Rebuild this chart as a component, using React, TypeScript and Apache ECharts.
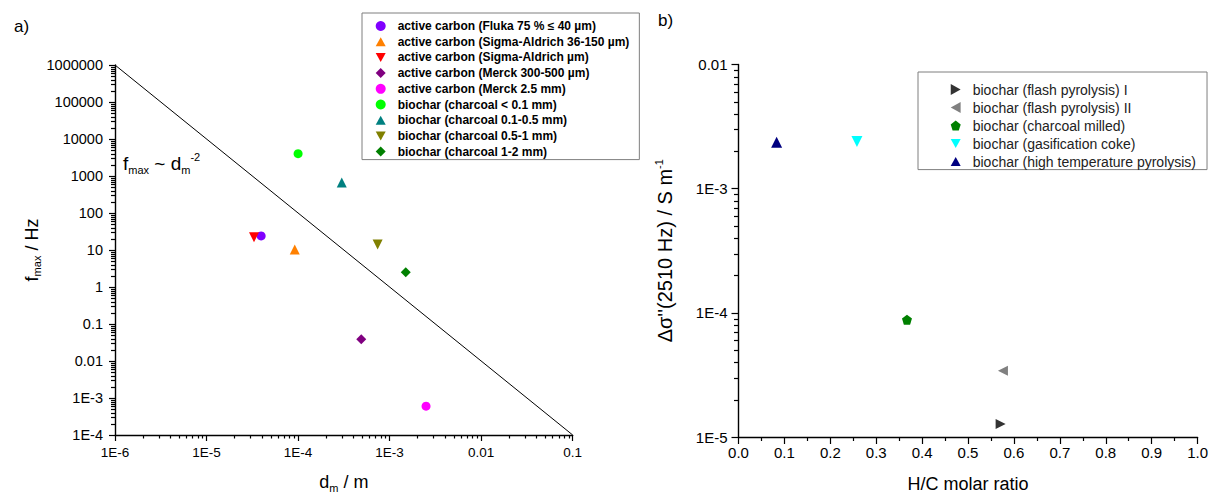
import React, { useEffect, useRef } from "react";
import * as echarts from "echarts";

// ---------- data ----------
// panel a: particle size d_m (m) vs relaxation frequency f_max (Hz)
const namesA = [
  "active carbon (Fluka 75 % \u2264 40 \u00b5m)",
  "active carbon (Sigma-Aldrich 36-150 \u00b5m)",
  "active carbon (Sigma-Aldrich \u00b5m)",
  "active carbon (Merck 300-500 \u00b5m)",
  "active carbon (Merck 2.5 mm)",
  "biochar (charcoal < 0.1 mm)",
  "biochar (charcoal 0.1-0.5 mm)",
  "biochar (charcoal 0.5-1 mm)",
  "biochar (charcoal 1-2 mm)",
];
const dmValues = [3.95e-5, 9.2e-5, 3.3e-5, 4.9e-4, 2.5e-3, 1.0e-4, 3.0e-4, 7.4e-4, 1.5e-3];
const fmaxValues = [24, 10.3, 22, 0.039, 6.0e-4, 4000, 670, 14, 2.5];

// power law line f_max ~ d_m^-2
const powerLawX = [1e-6, 0.1];
const powerLawY = [1e6, 1e-4];

// panel b: H/C molar ratio vs delta sigma'' (2510 Hz)
const namesB = [
  "biochar (flash pyrolysis) I",
  "biochar (flash pyrolysis) II",
  "biochar (charcoal milled)",
  "biochar (gasification coke)",
  "biochar (high temperature pyrolysis)",
];
const hcValues = [0.571, 0.576, 0.367, 0.258, 0.083];
const sigmaValues = [1.27e-5, 3.42e-5, 8.8e-5, 2.4e-3, 2.37e-3];

// tick labels (indexed by decade exponent)
const dmTickLabels = ["1E-6", "1E-5", "1E-4", "1E-3", "0.01", "0.1"]; // 10^-6 .. 10^-1
const fmaxTickLabels = ["1E-4", "1E-3", "0.01", "0.1", "1", "10", "100", "1000", "10000", "100000", "1000000"]; // 10^-4 .. 10^6
const sigmaTickLabels = ["1E-5", "1E-4", "1E-3", "0.01"]; // 10^-5 .. 10^-2
const minorMultipliers = [2, 3, 4, 5, 6, 7, 8, 9];

// ---------- styles ----------
const colorsA = ["#8000FF", "#FF8000", "#FF0000", "#800080", "#FF00FF", "#00FF00", "#008080", "#808000", "#008000"];
const DOWN = "path://M0,0 L10,0 L5,9 Z";
const UP = "path://M5,0 L10,9 L0,9 Z";
const RIGHT = "path://M0,0 L9,5 L0,10 Z";
const LEFT = "path://M9,0 L0,5 L9,10 Z";
const PENT = "path://M5,0 L10,3.8 L8.1,10 L1.9,10 L0,3.8 Z";
const DIAM = "path://M5,0 L10,5 L5,10 L0,5 Z";
const symbolsA = ["circle", UP, DOWN, DIAM, "circle", "circle", UP, DOWN, DIAM];
const sizesA = [9, 10, 10, 10, 9, 9, 10, 10, 10];
const colorsB = ["#333333", "#808080", "#008000", "#00FFFF", "#000080"];
const symbolsB = [RIGHT, LEFT, PENT, DOWN, UP];
const sizesB = [10, 10, 10, 11, 11];

const FONT = "Arial, 'Liberation Sans', sans-serif";
const TICK_COLOR = "#000";

function decadeMinors(fromExp: number, toExp: number): number[] {
  const out: number[] = [];
  for (let e = fromExp; e < toExp; e++) {
    for (const m of minorMultipliers) out.push(m * Math.pow(10, e));
  }
  return out;
}

const expLabel = (labels: string[], minExp: number) => (v: number) => {
  const e = Math.round(Math.log10(v));
  return labels[e - minExp] ?? "";
};

const nameRich = {
  n: { fontSize: 18, lineHeight: 22, color: "#000", fontFamily: FONT },
  s: { fontSize: 11, lineHeight: 11, verticalAlign: "bottom", color: "#000", fontFamily: FONT },
  p: { fontSize: 11, lineHeight: 11, verticalAlign: "top", color: "#000", fontFamily: FONT },
};

const axisLineStyle = { show: true, lineStyle: { color: "#000", width: 1.4 } };

export default function App() {
  const ref = useRef<HTMLDivElement>(null);
  useEffect(() => {
    if (!ref.current) return;
    const chart = echarts.init(ref.current, null, { renderer: "svg" });

    const seriesA = namesA.map((name, i) => ({
      type: "scatter",
      name,
      xAxisIndex: 0,
      yAxisIndex: 0,
      symbol: symbolsA[i],
      symbolSize: sizesA[i],
      itemStyle: { color: colorsA[i], opacity: 1 },
      data: [[dmValues[i], fmaxValues[i]]],
      z: 5,
    }));
    const seriesB = namesB.map((name, i) => ({
      type: "scatter",
      name,
      xAxisIndex: 1,
      yAxisIndex: 1,
      symbol: symbolsB[i],
      symbolSize: sizesB[i],
      itemStyle: { color: colorsB[i], opacity: 1 },
      data: [[hcValues[i], sigmaValues[i]]],
      z: 5,
    }));

    const texts: any[] = [
      { type: "text", left: 14, top: 18, style: { text: "a)", fontSize: 17, fill: "#000", fontFamily: FONT } },
      { type: "text", left: 658, top: 12, style: { text: "b)", fontSize: 17, fill: "#000", fontFamily: FONT } },
      {
        type: "text",
        left: 123,
        top: 151,
        style: {
          text: "{n|f}{s|max}{n| ~ d}{s|m}{p|-2}",
          rich: {
            n: { fontSize: 19, lineHeight: 24, fill: "#000", fontFamily: FONT },
            s: { fontSize: 11, lineHeight: 11, verticalAlign: "bottom", fill: "#000", fontFamily: FONT },
            p: { fontSize: 11, lineHeight: 11, verticalAlign: "top", fill: "#000", fontFamily: FONT },
          },
        },
      },
    ];

    const option: any = {
      animation: false,
      textStyle: { fontFamily: FONT },
      grid: [
        { left: 115, top: 65, width: 457.7, height: 375 },
        { left: 738.5, top: 64.5, width: 461.5, height: 376 },
      ],
      xAxis: [
        {
          gridIndex: 0,
          type: "log",
          logBase: 10,
          min: 1e-6,
          max: 0.1,
          splitNumber: 5,
          axisLine: axisLineStyle,
          axisTick: { show: true, inside: false, length: 6, lineStyle: { color: "#000", width: 1.2 } },
          axisLabel: { color: "#000", fontSize: 13.5, fontFamily: FONT, margin: 10, formatter: expLabel(dmTickLabels, -6) },
          splitLine: { show: false },
          name: "{n|d}{s|m}{n| / m}",
          nameLocation: "middle",
          nameGap: 36,
          nameTextStyle: { rich: nameRich },
        },
        {
          gridIndex: 1,
          type: "value",
          min: 0,
          max: 1,
          interval: 0.1,
          axisLine: axisLineStyle,
          axisTick: { show: true, inside: false, length: 7, lineStyle: { color: "#000", width: 1.2 } },
          minorTick: { show: true, splitNumber: 2, length: 4, lineStyle: { color: "#000", width: 1.2 } },
          axisLabel: { color: "#000", fontSize: 15, fontFamily: FONT, margin: 8, formatter: (v: number) => v.toFixed(1) },
          splitLine: { show: false },
          name: "{n|H/C molar ratio}",
          nameLocation: "middle",
          nameGap: 36,
          nameTextStyle: { rich: nameRich },
        },
      ],
      yAxis: [
        {
          gridIndex: 0,
          type: "log",
          logBase: 10,
          min: 1e-4,
          max: 1e6,
          splitNumber: 10,
          axisLine: axisLineStyle,
          axisTick: { show: true, inside: false, length: 6, lineStyle: { color: "#000", width: 1.2 } },
          axisLabel: { color: "#000", fontSize: 14.5, fontFamily: FONT, margin: 12, formatter: expLabel(fmaxTickLabels, -4) },
          splitLine: { show: false },
          name: "{n|f}{s|max}{n| / Hz}",
          nameLocation: "middle",
          nameGap: 68,
          nameRotate: 90,
          nameTextStyle: { rich: nameRich },
        },
        {
          gridIndex: 1,
          type: "log",
          logBase: 10,
          min: 1e-5,
          max: 1e-2,
          splitNumber: 3,
          axisLine: axisLineStyle,
          axisTick: { show: true, inside: false, length: 7, lineStyle: { color: "#000", width: 1.2 } },
          axisLabel: { color: "#000", fontSize: 15, fontFamily: FONT, margin: 11, formatter: expLabel(sigmaTickLabels, -5) },
          splitLine: { show: false },
          name: "{n|\u0394\u03c3''(2510 Hz) / S m}{p|-1}",
          nameLocation: "middle",
          nameGap: 63,
          nameRotate: 90,
          nameTextStyle: { rich: { ...nameRich, n: { ...nameRich.n, fontSize: 20 } } },
        },
      ],
      legend: [
        {
          data: namesA,
          orient: "vertical",
          left: 362,
          top: 13,
          itemWidth: 10,
          itemHeight: 10,
          itemGap: 3.7,
          padding: [7, 10, 2, 13.7],
          borderColor: "#7f7f7f",
          borderWidth: 1,
          selectedMode: false,
          formatter: (name: string) => "{g|}" + name,
          textStyle: {
            fontWeight: "bold",
            fontSize: 12,
            lineHeight: 12,
            color: "#000",
            fontFamily: FONT,
            rich: { g: { width: 7, lineHeight: 12 } },
          },
        },
        {
          data: namesB,
          orient: "vertical",
          left: 918,
          top: 72,
          itemWidth: 10,
          itemHeight: 11,
          itemGap: 4,
          padding: [10.6, 11, 1, 32.7],
          borderColor: "#7f7f7f",
          borderWidth: 1,
          selectedMode: false,
          formatter: (name: string) => "{g|}" + name,
          textStyle: {
            fontSize: 14,
            lineHeight: 14,
            color: "#222",
            fontFamily: FONT,
            rich: { g: { width: 7, lineHeight: 14 } },
          },
        },
      ],
      graphic: texts,
      series: [
        {
          type: "line",
          name: "power law",
          xAxisIndex: 0,
          yAxisIndex: 0,
          data: powerLawX.map((x, i) => [x, powerLawY[i]]),
          symbol: "none",
          lineStyle: { color: "#000", width: 1 },
          silent: true,
          z: 2,
        },
        ...seriesA,
        ...seriesB,
      ],
    };
    chart.setOption(option);

    // minor (log-spaced) ticks placed through the chart's own scales
    const minorLines: any[] = [];
    const addTick = (gridIndex: number, value: number[], dir: "x" | "y", len: number) => {
      const p = chart.convertToPixel({ gridIndex }, value) as number[];
      if (!p) return;
      if (dir === "x") {
        const x = Math.round(p[0]) + 0.5;
        minorLines.push({ type: "line", silent: true, z: 100, shape: { x1: x, y1: p[1], x2: x, y2: p[1] + len }, style: { stroke: TICK_COLOR, lineWidth: 1.2 } });
      } else {
        const y = Math.round(p[1]) + 0.5;
        minorLines.push({ type: "line", silent: true, z: 100, shape: { x1: p[0] - len, y1: y, x2: p[0], y2: y }, style: { stroke: TICK_COLOR, lineWidth: 1.2 } });
      }
    };
    decadeMinors(-6, -1).forEach((v) => addTick(0, [v, 1e-4], "x", 3.5));
    decadeMinors(-4, 6).forEach((v) => addTick(0, [1e-6, v], "y", 4));
    decadeMinors(-5, -2).forEach((v) => addTick(1, [0, v], "y", 4.5));
    chart.setOption({ graphic: [...texts, ...minorLines] });

    return () => chart.dispose();
  }, []);
  return <div ref={ref} style={{ width: 1211, height: 498, position: "absolute", left: 0, top: 0 }} />;
}
